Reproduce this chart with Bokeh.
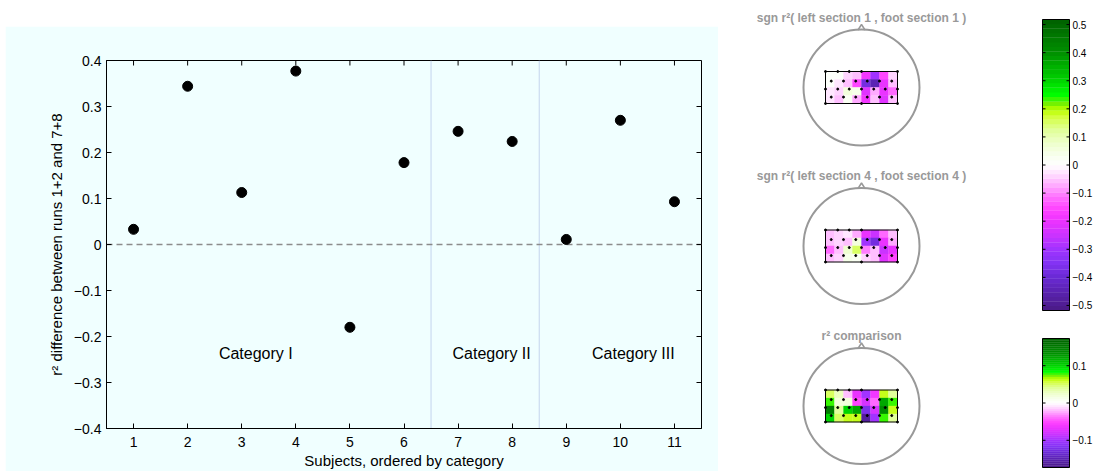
import numpy as np
from bokeh.plotting import figure
from bokeh.models import Range1d, FixedTicker, Span, ColumnDataSource
from bokeh.layouts import row
from bokeh.transform import linear_cmap
from bokeh.core.properties import value
from bokeh.embed import file_html
from bokeh.resources import INLINE

# ---------------- data: left scatter ----------------
subjects = [1, 2, 3, 4, 5, 6, 7, 8, 9, 10, 11]
r2_diff = [0.033, 0.344, 0.113, 0.377, -0.180, 0.178, 0.246, 0.224, 0.011, 0.270, 0.093]
category_names = ["Category I", "Category II", "Category III"]
category_x = [3.26, 7.62, 10.24]
category_y = [-0.237, -0.237, -0.237]
category_bounds = [6.5, 8.5]
x_ticks = [1, 2, 3, 4, 5, 6, 7, 8, 9, 10, 11]
y_ticks = [-0.4, -0.3, -0.2, -0.1, 0.0, 0.1, 0.2, 0.3, 0.4]
y_tick_labels = ["\u22120.4", "\u22120.3", "\u22120.2", "\u22120.1", "0", "0.1", "0.2", "0.3", "0.4"]

# ---------------- data: topographic maps (rows top->bottom, cols left->right) ----------------
map_titles = ["sgn r\u00b2( left section 1 , foot section 1 )",
              "sgn r\u00b2( left section 4 , foot section 4 )",
              "r\u00b2 comparison"]
map1 = [[0.00, 0.00, -0.04, -0.06, -0.18, -0.30, -0.15, -0.04],
        [0.00, -0.02, -0.05, -0.15, -0.38, -0.45, -0.20, -0.05],
        [-0.02, -0.04, 0.05, 0.04, -0.22, -0.08, -0.20, -0.12],
        [-0.03, -0.05, 0.03, -0.08, -0.18, -0.06, -0.22, -0.06]]
map2 = [[-0.05, -0.04, -0.03, -0.08, -0.20, -0.25, -0.12, -0.05],
        [-0.06, -0.04, -0.05, 0.06, -0.30, -0.38, -0.20, -0.08],
        [-0.12, -0.05, 0.08, 0.15, -0.10, -0.05, -0.25, -0.20],
        [-0.06, -0.04, 0.04, 0.02, -0.04, -0.05, -0.22, -0.15]]
map3 = [[0.05, 0.03, -0.02, -0.07, -0.10, -0.06, 0.06, 0.04],
        [0.08, 0.02, 0.02, -0.05, -0.08, -0.04, 0.12, 0.08],
        [0.15, 0.04, 0.10, 0.12, -0.12, -0.08, 0.14, 0.06],
        [0.10, 0.05, 0.06, 0.06, -0.16, -0.10, 0.08, 0.04]]
map_limits = [0.518, 0.518, 0.173]
electrode_x = [0.0, 0.17, 0.33, 0.5, 1.0,
               0.08, 0.25, 0.42, 0.58, 0.75, 0.92,
               0.0, 0.17, 0.33, 0.5, 0.67, 0.83, 1.0,
               0.08, 0.25, 0.42, 0.58, 0.75, 0.92,
               0.0, 0.5, 1.0]
electrode_y = [0.0] * 5 + [0.3] * 6 + [0.55] * 7 + [0.8] * 6 + [1.0] * 3
cbar1_ticks = [0.5, 0.4, 0.3, 0.2, 0.1, 0.0, -0.1, -0.2, -0.3, -0.4, -0.5]
cbar1_labels = ["0.5", "0.4", "0.3", "0.2", "0.1", "0", "\u22120.1", "\u22120.2", "\u22120.3", "\u22120.4", "\u22120.5"]
cbar2_ticks = [0.1, 0.0, -0.1]
cbar2_labels = ["0.1", "0", "\u22120.1"]

# ---------------- colormap (purple-magenta-white-yellow-green) ----------------
anchors = [(-1.00, "#4a1a85"), (-0.87, "#5a22b0"), (-0.77, "#6a2ad5"), (-0.67, "#8533f5"),
           (-0.58, "#a033ff"), (-0.48, "#cc33ff"), (-0.38, "#ee33ff"), (-0.30, "#ff44ff"),
           (-0.22, "#ff70ff"), (-0.14, "#ffaaff"), (-0.06, "#ffe0ff"), (0.0, "#ffffff"),
           (0.06, "#f8fff0"), (0.15, "#eeffcc"), (0.24, "#e0ff99"), (0.33, "#d4ff40"),
           (0.38, "#bbff00"), (0.43, "#66f000"), (0.48, "#00ff00"), (0.60, "#00cc00"),
           (0.77, "#009000"), (1.00, "#006000")]
N = 64


def hex2rgb(h):
    return [int(h[i:i + 2], 16) for i in (1, 3, 5)]


palette = []
at = [a[0] for a in anchors]
ac = np.array([hex2rgb(a[1]) for a in anchors], dtype=float)
for i in range(N):
    t = -1 + (i + 0.5) * 2 / N
    rgb = [int(round(np.interp(t, at, ac[:, k]))) for k in range(3)]
    palette.append("#%02x%02x%02x" % tuple(rgb))

FONT = value("Liberation Sans")
CYAN = "#f0ffff"

# ---------------- left figure ----------------
X0, X1, Y0, Y1 = 0.5, 11.5, -0.4, 0.4
FW, FH = 595, 368
p = figure(width=713, height=444, frame_width=FW, frame_height=FH,
           x_range=Range1d(X0, X1), y_range=Range1d(Y0, Y1), title=None,
           output_backend="svg", toolbar_location=None, margin=(26, 0, 0, 5),
           min_border_left=101, min_border_right=17, min_border_top=34, min_border_bottom=42,
           background_fill_color=CYAN, border_fill_color=CYAN, outline_line_color="black")
p.frame_align = False
p.grid.visible = False

for b in category_bounds:
    p.add_layout(Span(location=b, dimension="height", line_color="#c4d4ee", line_width=1, level="underlay"))
p.add_layout(Span(location=0, dimension="width", line_color="#8c8c8c", line_width=1.6,
                  line_dash="6 4", level="underlay"))

# ticks on the top and right edges of the box (MATLAB "box on" style, pointing inward)
tick_px = 5
dy = tick_px * (Y1 - Y0) / FH
dx = tick_px * (X1 - X0) / FW
p.segment(x_ticks, [Y1] * len(x_ticks), x_ticks, [Y1 - dy] * len(x_ticks), line_color="black", line_width=1)
p.segment([X1] * len(y_ticks), y_ticks, [X1 - dx] * len(y_ticks), y_ticks, line_color="black", line_width=1)

p.scatter(subjects, r2_diff, size=10, color="black")
p.text(x=category_x, y=category_y, text=category_names, text_align="center", text_baseline="middle",
       text_font=FONT, text_font_size="16px", text_color="black")

for ax in (p.xaxis[0], p.yaxis[0]):
    ax.major_tick_in = 5
    ax.major_tick_out = 0
    ax.minor_tick_line_color = None
    ax.axis_line_color = "black"
    ax.major_tick_line_color = "black"
    ax.major_label_text_font = "Liberation Sans"
    ax.major_label_text_color = "black"
    ax.major_label_text_font_size = "14px"
    ax.axis_label_text_font = "Liberation Sans"
    ax.axis_label_text_font_style = "normal"
    ax.axis_label_text_color = "black"
    ax.axis_label_text_font_size = "15px"

p.xaxis.ticker = FixedTicker(ticks=x_ticks)
p.yaxis.ticker = FixedTicker(ticks=y_ticks)
p.yaxis.major_label_overrides = {t: l for t, l in zip(y_ticks, y_tick_labels)}
p.xaxis.axis_label = "Subjects, ordered by category"
p.yaxis.axis_label = "r\u00b2 difference between runs 1+2 and 7+8"
p.xaxis.major_label_standoff = 8
p.xaxis.axis_label_standoff = 2
p.yaxis.major_label_standoff = 5
p.yaxis.axis_label_standoff = 6

# ---------------- right figure (topographic maps + colour bars) ----------------
RW, RH = 378, 471
q = figure(width=RW, height=RH, frame_width=RW, frame_height=RH, title=None,
           x_range=Range1d(718, 718 + RW), y_range=Range1d(RH, 0),
           output_backend="svg", toolbar_location=None, min_border=0, margin=0,
           outline_line_color=None, x_axis_type=None, y_axis_type=None,
           background_fill_color="white", border_fill_color="white")
q.frame_align = False
q.grid.visible = False

head_cx = 861
head_cy = [87, 245.5, 405.5]
head_r = 58
map_w, map_h = 72, 32
maps = [map1, map2, map3]

for k in range(3):
    cy = head_cy[k]
    vals = np.array(maps[k])
    nr, nc = vals.shape
    cw, ch = map_w / nc, map_h / nr
    xs, ys, vs = [], [], []
    for r in range(nr):
        for c in range(nc):
            xs.append(head_cx - map_w / 2 + cw * (c + 0.5))
            ys.append(cy - map_h / 2 + ch * (r + 0.5))
            vs.append(vals[r, c])
    src = ColumnDataSource(dict(x=xs, y=ys, v=vs))
    lim = map_limits[k]
    q.rect("x", "y", width=cw + 0.3, height=ch + 0.3, source=src,
           fill_color=linear_cmap("v", palette, -lim, lim), line_color=None)
    q.rect([head_cx], [cy], width=map_w, height=map_h, fill_color=None, line_color="black", line_width=1)
    q.scatter([head_cx - map_w / 2 + ex * map_w for ex in electrode_x],
              [cy - map_h / 2 + ey * map_h for ey in electrode_y],
              size=2, color="black")
    q.circle([head_cx], [cy], radius=head_r, fill_color=None, line_color="#999999", line_width=2)
    q.line([head_cx - 3.5, head_cx, head_cx + 3.5], [cy - head_r + 0.5, cy - head_r - 5, cy - head_r + 0.5],
           line_color="#999999", line_width=1.5)
    q.text([head_cx], [cy - 70], text=[map_titles[k]], text_align="center", text_baseline="alphabetic",
           text_font=FONT, text_font_size="12px", text_font_style="bold", text_color="#999999")

# colour bars
cbars = [(19, 310, 0.518, cbar1_ticks, cbar1_labels), (338, 467, 0.173, cbar2_ticks, cbar2_labels)]
cb_x0, cb_x1 = 1042, 1069
for (ytop, ybot, lim, ticks, labels) in cbars:
    bh = (ybot - ytop) / N
    ys = [ybot - bh * (i + 0.5) for i in range(N)]
    q.rect([(cb_x0 + cb_x1) / 2] * N, ys, width=cb_x1 - cb_x0, height=bh + 0.3,
           fill_color=palette, line_color=None)
    q.rect([(cb_x0 + cb_x1) / 2], [(ytop + ybot) / 2], width=cb_x1 - cb_x0, height=ybot - ytop,
           fill_color=None, line_color="black", line_width=1)
    ty = [ytop + (lim - t) / (2 * lim) * (ybot - ytop) for t in ticks]
    q.segment([cb_x0] * len(ty), ty, [cb_x0 + 3] * len(ty), ty, line_color="black", line_width=1)
    q.segment([cb_x1 - 3] * len(ty), ty, [cb_x1] * len(ty), ty, line_color="black", line_width=1)
    q.text([cb_x1 + 3] * len(ty), ty, text=labels, text_align="left", text_baseline="middle",
           text_font=FONT, text_font_size="10px", text_color="black")

layout = row(p, q, spacing=0)
open("out.html", "w").write(file_html(layout, INLINE))
